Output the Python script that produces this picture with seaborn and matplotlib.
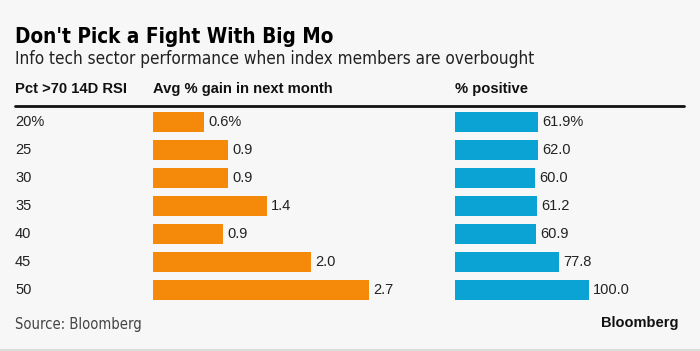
import matplotlib
matplotlib.use('Agg')
import matplotlib.pyplot as plt
import matplotlib.transforms as mtransforms
import seaborn as sns
import pandas as pd

# data
rsi_labels = ['20%', '25', '30', '35', '40', '45', '50']
avg_gain = [0.64, 0.94, 0.94, 1.42, 0.88, 1.98, 2.7]
pct_positive = [61.9, 62.0, 60.0, 61.2, 60.9, 77.8, 100.0]

df = pd.DataFrame({'rsi': rsi_labels, 'gain': avg_gain, 'positive': pct_positive})

sns.set_theme(style='white')
plt.rcParams['font.family'] = ['Liberation Sans', 'DejaVu Sans']

W, H = 700, 351
bg = '#f7f7f7'
orange = '#f5890a'
blue = '#0ba3d3'

fig = plt.figure(figsize=(W / 100, H / 100), dpi=100, facecolor=bg)

def fx(px):
    return px / W

def fy(px):
    return 1 - px / H

top, bottom = 108, 304
ax1 = fig.add_axes([fx(153), fy(bottom), fx(290), (bottom - top) / H])
ax2 = fig.add_axes([fx(455), fy(bottom), fx(230), (bottom - top) / H])

sns.barplot(data=df, x='gain', y='rsi', color=orange, width=0.7, saturation=1,
            linewidth=0, ax=ax1)
sns.barplot(data=df, x='positive', y='rsi', color=blue, width=0.7, saturation=1,
            linewidth=0, ax=ax2)
ax1.set_xlim(0, 290 / 80)
ax2.set_xlim(0, 230 / 1.335)

gain_lbl = [f'{v:.1f}' for v in avg_gain]
gain_lbl[0] += '%'
pos_lbl = [f'{v:.1f}' for v in pct_positive]
pos_lbl[0] += '%'
ax1.bar_label(ax1.containers[0], labels=gain_lbl, padding=3, fontsize=10.5, color='#222222')
ax2.bar_label(ax2.containers[0], labels=pos_lbl, padding=3, fontsize=10.5, color='#222222')

for ax in (ax1, ax2):
    ax.set_facecolor('none')
    ax.set_xlabel('')
    ax.set_ylabel('')
    ax.set_xticks([])
    ax.set_yticks([])
    for s in ax.spines.values():
        s.set_visible(False)

# row labels on the left
trans = mtransforms.blended_transform_factory(fig.transFigure, ax1.transData)
for i, lab in enumerate(rsi_labels):
    ax1.text(fx(15), i, lab, transform=trans, ha='left', va='center',
             fontsize=10.5, color='#222222')

# titles
fig.text(fx(15), fy(37), "Don't Pick a Fight With Big Mo", ha='left', va='center',
         fontsize=14.9, fontweight='bold', family='DejaVu Sans', fontstretch='condensed',
         color='#000000')
fig.text(fx(15), fy(59), 'Info tech sector performance when index members are overbought',
         ha='left', va='center', fontsize=12.3, family='DejaVu Sans',
         fontstretch='condensed', color='#222222')

hdr = dict(ha='left', va='center', fontsize=10.6, fontweight='bold',
           family=['Liberation Sans Narrow', 'Liberation Sans'], color='#111111')
fig.text(fx(15), fy(89), 'Pct >70 14D RSI', **hdr)
fig.text(fx(153), fy(89), 'Avg % gain in next month', **hdr)
fig.text(fx(455), fy(89), '% positive', **hdr)

fig.add_artist(plt.Line2D([fx(15), fx(684)], [fy(106), fy(106)], color='#111111', lw=2))

fig.text(fx(15), fy(324), 'Source: Bloomberg', ha='left', va='center', fontsize=10.6,
         family='DejaVu Sans', fontstretch='condensed', color='#444444')
fig.text(fx(678), fy(323), 'Bloomberg', ha='right', va='center', fontsize=10.5,
         fontweight='bold', color='#111111')
fig.add_artist(plt.Line2D([0, 1], [fy(349.5), fy(349.5)], color='#dddddd', lw=1.5))

fig.savefig('out.png', dpi=100, facecolor=bg)
